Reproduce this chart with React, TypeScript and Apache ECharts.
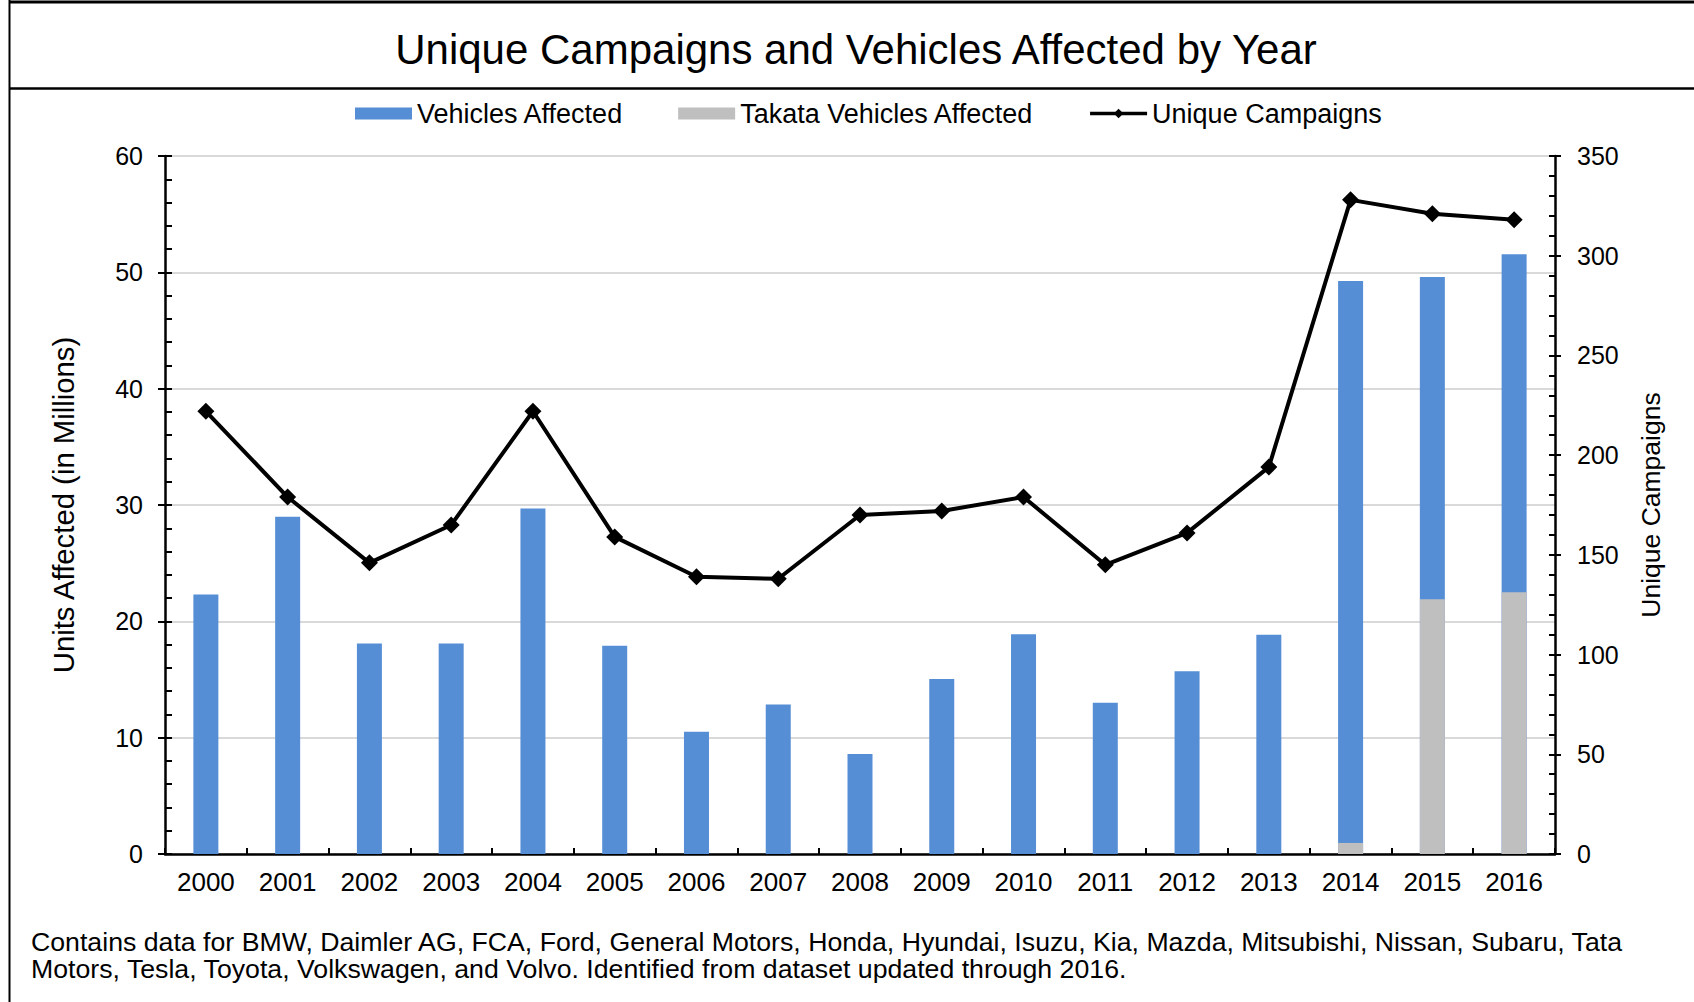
import React, { useEffect, useRef } from "react";
import * as echarts from "echarts";

const years = ["2000", "2001", "2002", "2003", "2004", "2005", "2006", "2007", "2008", "2009", "2010", "2011", "2012", "2013", "2014", "2015", "2016"];
// total units affected (millions) per year
const vehiclesAffected = [22.3, 29.0, 18.1, 18.1, 29.7, 17.9, 10.5, 12.85, 8.6, 15.05, 18.9, 13.0, 15.7, 18.85, 49.25, 49.6, 51.55];
// Takata portion (millions)
const takataAffected: (number | null)[] = [null, null, null, null, null, null, null, null, null, null, null, null, null, null, 0.95, 21.9, 22.5];
const uniqueCampaigns = [222, 179, 146, 165, 222, 159, 139, 138, 170, 172, 179, 145, 161, 194, 328, 321, 318];

const leftMin = 0, leftMax = 60, leftInterval = 10;
const rightMin = 0, rightMax = 350, rightInterval = 50;

const titleText = "Unique Campaigns and Vehicles Affected by Year";
const noteText = "Contains data for BMW, Daimler AG, FCA, Ford, General Motors, Honda, Hyundai, Isuzu, Kia, Mazda, Mitsubishi, Nissan, Subaru, Tata\nMotors, Tesla, Toyota, Volkswagen, and Volvo. Identified from dataset updated through 2016.";

const FONT = '"Liberation Sans", Arial, sans-serif';
const BLUE = "#558ED5";
const GRAY = "#BFBFBF";

export default function App() {
  const ref = useRef<HTMLDivElement>(null);
  useEffect(() => {
    document.body.style.margin = "0";
    if (!ref.current) return;
    const chart = echarts.init(ref.current, undefined, { renderer: "svg" });
    const axisLine = { show: true, lineStyle: { color: "#000", width: 2.5 } };
    const labelStyle = { color: "#000", fontSize: 26, fontFamily: FONT };
    chart.setOption({
      animation: false,
      backgroundColor: "#fff",
      textStyle: { fontFamily: FONT },
      grid: { left: 165, right: 139, top: 156, bottom: 148, containLabel: false },
      legend: {
        left: 350,
        top: 95,
        itemWidth: 57,
        itemHeight: 12,
        itemGap: 54.5,
        textStyle: { color: "#000", fontSize: 27, fontFamily: FONT },
        data: [
          { name: "Vehicles Affected", icon: "rect" },
          { name: "Takata Vehicles Affected", icon: "rect" },
          { name: "Unique Campaigns", lineStyle: { width: 3.5, color: "#000" } },
        ],
      },
      xAxis: {
        type: "category",
        data: years,
        boundaryGap: true,
        axisLine,
        axisTick: { show: true, inside: true, length: 6, interval: 0, lineStyle: { color: "#000", width: 2 } },
        axisLabel: { ...labelStyle, margin: 15, interval: 0 },
        splitLine: { show: false },
      },
      yAxis: [
        {
          type: "value",
          position: "left",
          min: leftMin,
          max: leftMax,
          interval: leftInterval,
          name: "Units Affected (in Millions)",
          nameLocation: "middle",
          nameRotate: 90,
          nameGap: 87,
          nameTextStyle: { color: "#000", fontSize: 29.3, fontFamily: FONT },
          axisLine,
          axisTick: { show: true, inside: true, length: 7, lineStyle: { color: "#000", width: 2 } },
          minorTick: { show: true, splitNumber: 5, length: 7, lineStyle: { color: "#000", width: 2 } },
          axisLabel: { ...labelStyle, fontSize: 25, margin: 22 },
          splitLine: { show: true, lineStyle: { color: "#D9D9D9", width: 2 } },
        },
        {
          type: "value",
          position: "right",
          min: rightMin,
          max: rightMax,
          interval: rightInterval,
          name: "Unique Campaigns",
          nameLocation: "middle",
          nameRotate: 90,
          nameGap: 82,
          nameTextStyle: { color: "#000", fontSize: 26.5, fontFamily: FONT },
          axisLine,
          axisTick: { show: true, inside: true, length: 6, lineStyle: { color: "#000", width: 2 } },
          minorTick: { show: true, splitNumber: 5, length: 6, lineStyle: { color: "#000", width: 2 } },
          axisLabel: { ...labelStyle, fontSize: 25, margin: 22 },
          splitLine: { show: false },
        },
        {
          type: "value",
          position: "left",
          min: leftMin,
          max: leftMax,
          interval: leftInterval,
          axisLine: { show: false },
          axisTick: { show: true, inside: false, length: 7, lineStyle: { color: "#000", width: 2 } },
          axisLabel: { show: false },
          splitLine: { show: false },
        },
        {
          type: "value",
          position: "right",
          min: rightMin,
          max: rightMax,
          interval: rightInterval,
          axisLine: { show: false },
          axisTick: { show: true, inside: false, length: 6, lineStyle: { color: "#000", width: 2 } },
          axisLabel: { show: false },
          splitLine: { show: false },
        },
      ],
      series: [
        {
          name: "Vehicles Affected",
          type: "bar",
          yAxisIndex: 0,
          data: vehiclesAffected,
          barWidth: 25,
          barGap: "-100%",
          itemStyle: { color: BLUE },
        },
        {
          name: "Takata Vehicles Affected",
          type: "bar",
          yAxisIndex: 0,
          data: takataAffected,
          barWidth: 25,
          barGap: "-100%",
          itemStyle: { color: GRAY },
        },
        {
          name: "Unique Campaigns",
          type: "line",
          yAxisIndex: 1,
          data: uniqueCampaigns,
          symbol: "diamond",
          symbolSize: 17,
          lineStyle: { color: "#000", width: 4 },
          itemStyle: { color: "#000" },
          z: 5,
        },
      ],
      graphic: [
        { type: "line", shape: { x1: 9.5, y1: 0, x2: 9.5, y2: 1002 }, style: { stroke: "#000", lineWidth: 2 } },
        { type: "line", shape: { x1: 9, y1: 2, x2: 1694, y2: 2 }, style: { stroke: "#000", lineWidth: 3 } },
        { type: "line", shape: { x1: 9, y1: 88.5, x2: 1694, y2: 88.5 }, style: { stroke: "#000", lineWidth: 2.5 } },
        {
          type: "text",
          x: 856,
          y: 49,
          style: { text: titleText, fill: "#000", font: `42px ${FONT}`, textAlign: "center", textVerticalAlign: "middle" },
        },
        {
          type: "text",
          x: 31,
          y: 928,
          style: { text: noteText, fill: "#000", font: `26.7px ${FONT}`, lineHeight: 27.5, textAlign: "left", textVerticalAlign: "top" },
        },
      ],
    });
    return () => chart.dispose();
  }, []);
  return <div ref={ref} style={{ width: 1694, height: 1002 }} />;
}
